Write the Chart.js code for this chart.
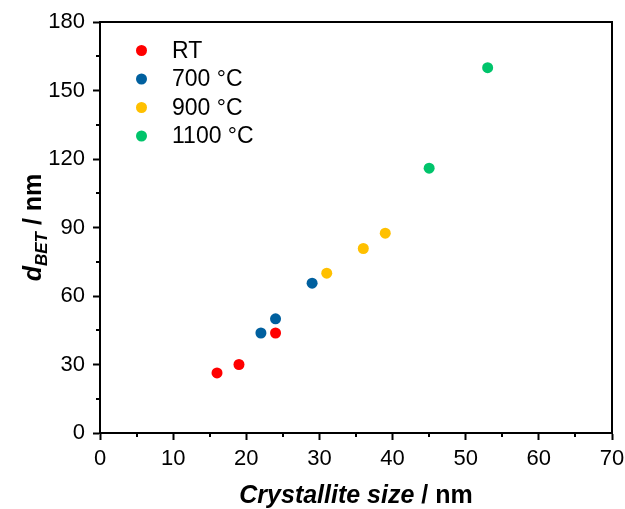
<!DOCTYPE html>
<html>
<head>
<meta charset="utf-8">
<script src="https://cdn.jsdelivr.net/npm/chart.js@4.4.1/dist/chart.umd.min.js"></script>
<style>
  html, body { margin: 0; padding: 0; background: #fff; }
  #wrap { width: 625px; height: 509px; }
</style>
</head>
<body>
<div id="wrap"><canvas id="grafico"></canvas></div>
<script>
// data
var seriesNames = ["RT", "700 °C", "900 °C", "1100 °C"];
var seriesColors = ["#ff0000", "#00609f", "#ffc000", "#00c46b"];

var rtX = [16, 19, 24];
var rtY = [26.3, 30, 43.8];
var t700X = [22, 24, 29];
var t700Y = [43.8, 50, 65.6];
var t900X = [31, 36, 39];
var t900Y = [70, 80.8, 87.5];
var t1100X = [45, 53];
var t1100Y = [116, 160];

var xTicks = [0, 10, 20, 30, 40, 50, 60, 70];
var yTicks = [0, 30, 60, 90, 120, 150, 180];

var FONT = "'Liberation Sans', Arial, sans-serif";

function pontos(xs, ys) {
    var out = [];
    for (var i = 0; i < xs.length; i++) out.push({ x: xs[i], y: ys[i] });
    return out;
}

function montarDataset(i, xs, ys) {
    return {
        label: seriesNames[i],
        data: pontos(xs, ys),
        backgroundColor: seriesColors[i],
        borderColor: seriesColors[i],
        pointRadius: 5.5,
        pointHoverRadius: 5.5,
        borderWidth: 0
    };
}

// frame, minor ticks, legend and axis titles
var extras = {
    id: 'extras',
    afterDraw: function (chart) {
        var ctx = chart.ctx;
        var a = chart.chartArea;
        var sx = chart.scales.x, sy = chart.scales.y;
        ctx.save();
        ctx.strokeStyle = '#000';
        ctx.lineWidth = 2;
        ctx.strokeRect(a.left, a.top, a.right - a.left, a.bottom - a.top);

        // minor ticks
        ctx.beginPath();
        for (var v = 5; v < 70; v += 10) {
            var px = Math.round(sx.getPixelForValue(v));
            ctx.moveTo(px, a.bottom);
            ctx.lineTo(px, a.bottom + 4);
        }
        for (var w = 15; w < 180; w += 30) {
            var py = Math.round(sy.getPixelForValue(w));
            ctx.moveTo(a.left, py);
            ctx.lineTo(a.left - 4, py);
        }
        ctx.stroke();

        // legend
        ctx.textBaseline = 'middle';
        ctx.textAlign = 'left';
        ctx.font = '23px ' + FONT;
        chart.data.datasets.forEach(function (ds, i) {
            var yy = 50.5 + i * 28.5;
            ctx.fillStyle = ds.backgroundColor;
            ctx.beginPath();
            ctx.arc(141.5, yy, 5.5, 0, Math.PI * 2);
            ctx.fill();
            ctx.fillStyle = '#000';
            ctx.fillText(ds.label, 172, yy + 1);
        });

        // x title
        ctx.textBaseline = 'alphabetic';
        var p1 = 'Crystallite size', p2 = ' / nm';
        ctx.font = 'italic bold 25px ' + FONT;
        var w1 = ctx.measureText(p1).width;
        ctx.font = 'bold 25px ' + FONT;
        var w2 = ctx.measureText(p2).width;
        var cx = (a.left + a.right) / 2;
        var x0 = cx - (w1 + w2) / 2;
        ctx.font = 'italic bold 25px ' + FONT;
        ctx.fillText(p1, x0, 503);
        ctx.font = 'bold 25px ' + FONT;
        ctx.fillText(p2, x0 + w1, 503);

        // y title
        ctx.translate(41, (a.top + a.bottom) / 2);
        ctx.rotate(-Math.PI / 2);
        ctx.font = 'italic bold 25px ' + FONT;
        var wd = ctx.measureText('d').width;
        ctx.font = 'italic bold 17px ' + FONT;
        var wb = ctx.measureText('BET').width;
        ctx.font = 'bold 25px ' + FONT;
        var wn = ctx.measureText(' / nm').width;
        var s = -(wd + wb + wn) / 2;
        ctx.font = 'italic bold 25px ' + FONT;
        ctx.fillText('d', s, 0);
        ctx.font = 'italic bold 17px ' + FONT;
        ctx.fillText('BET', s + wd, 6);
        ctx.font = 'bold 25px ' + FONT;
        ctx.fillText(' / nm', s + wd + wb, 0);
        ctx.restore();
    }
};

new Chart(document.getElementById('grafico'), {
    type: 'scatter',
    data: {
        datasets: [
            montarDataset(0, rtX, rtY),
            montarDataset(1, t700X, t700Y),
            montarDataset(2, t900X, t900Y),
            montarDataset(3, t1100X, t1100Y)
        ]
    },
    options: {
        responsive: true,
        maintainAspectRatio: false,
        animation: false,
        layout: { padding: { left: 0, right: 13, top: 22, bottom: 0 } },
        plugins: {
            legend: { display: false },
            tooltip: { enabled: false }
        },
        scales: {
            x: {
                type: 'linear',
                min: xTicks[0],
                max: xTicks[xTicks.length - 1],
                afterFit: function (s) { s.height = 76; s.paddingLeft = 0; s.paddingRight = 0; },
                afterBuildTicks: function (s) { s.ticks = xTicks.map(function (v) { return { value: v }; }); },
                grid: { drawOnChartArea: false, tickLength: 7, tickWidth: 2, tickColor: '#000' },
                border: { display: true, color: '#000', width: 2 },
                ticks: { color: '#000', padding: 6, maxRotation: 0, font: { family: FONT, size: 22 } }
            },
            y: {
                type: 'linear',
                min: yTicks[0],
                max: yTicks[yTicks.length - 1],
                afterFit: function (s) { s.width = 100; s.paddingTop = 0; s.paddingBottom = 0; },
                afterBuildTicks: function (s) { s.ticks = yTicks.map(function (v) { return { value: v }; }); },
                grid: { drawOnChartArea: false, tickLength: 7, tickWidth: 2, tickColor: '#000' },
                border: { display: true, color: '#000', width: 2 },
                ticks: { color: '#000', padding: 8, font: { family: FONT, size: 22 } }
            }
        }
    },
    plugins: [extras]
});
</script>
</body>
</html>
